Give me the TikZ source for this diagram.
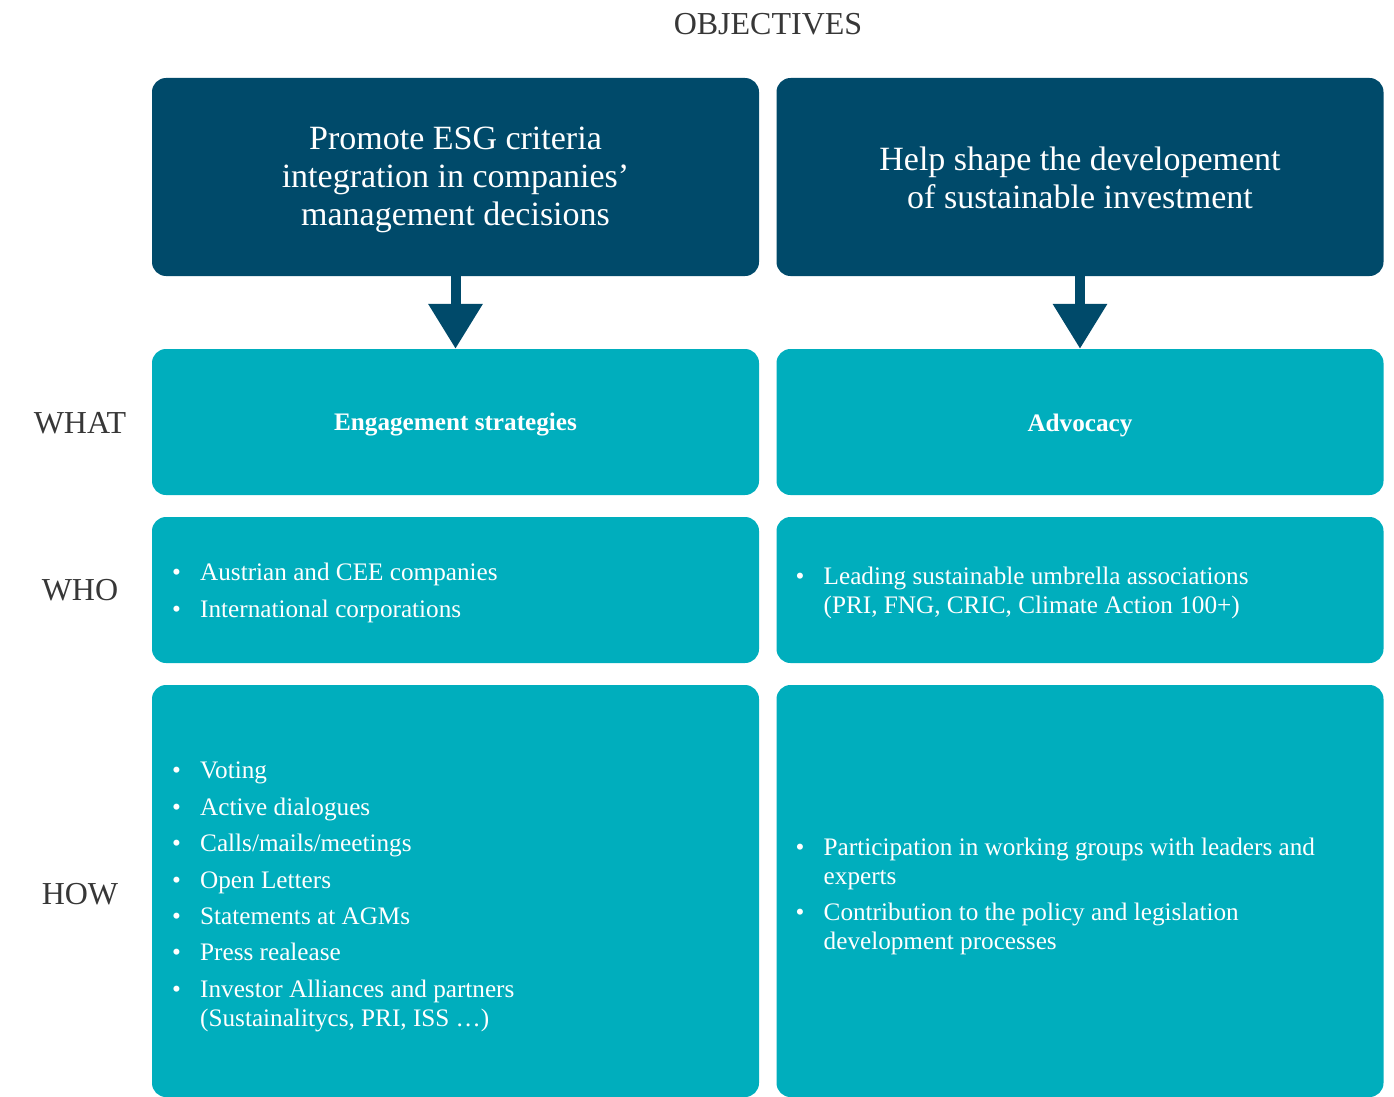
\documentclass[tikz,border=0pt]{standalone}
\usepackage{fontspec}
\setmainfont{Liberation Serif}
\usetikzlibrary{arrows.meta}
\definecolor{navy}{RGB}{0,74,106}
\definecolor{teal}{RGB}{0,174,189}
\definecolor{labelgray}{RGB}{55,55,55}
\newcommand\bodyfont{\fontsize{25.2}{29}\selectfont}
\newcommand\headfont{\fontsize{34}{38.3}\selectfont}
\newcommand\rowfont{\fontsize{32}{36}\selectfont}
\tikzset{
  objbox/.style={fill=navy, rounded corners=14pt, inner sep=0pt,
    minimum width=607pt, minimum height=198pt},
  objtext/.style={text=white, align=center, font=\headfont, inner sep=0pt},
  cellbox/.style={fill=teal, rounded corners=14pt, inner sep=0pt,
    minimum width=607pt},
  celltitle/.style={text=white, font=\bodyfont\bfseries, inner sep=0pt},
  rowlabel/.style={text=labelgray, font=\rowfont, inner sep=0pt},
  bulletline/.style={anchor=mid west, inner sep=0pt, text=white, font=\bodyfont, yshift=-5pt},
  downarrow/.style={draw=navy, line width=10pt, -{Triangle[width=52pt,length=45pt]}},
}
% bullet item: name, text start x, mid y, text
\newcommand\bitem[4]{\node[bulletline] (#1) at (#2-28,#3) {\makebox[28pt][l]{•}#4};}
% continuation line of a wrapped item
\newcommand\citem[4]{\node[bulletline] (#1) at (#2,#3) {#4};}
\begin{document}
\begin{tikzpicture}[x=1pt,y=-1pt]
\useasboundingbox (0,0) rectangle (1394,1097);

% title
\node[rowlabel] (title) at (768,24) {OBJECTIVES};

% objectives
\node[objbox] (obj1) at (455.5,177) {};
\node[objbox] (obj2) at (1080,177) {};
\node[objtext] (obj1t) at ([yshift=-3pt]obj1.center) {Promote ESG criteria\\integration in companies’\\management decisions};
\node[objtext] (obj2t) at ([yshift=-1pt]obj2.center) {Help shape the developement\\of sustainable investment};

% WHAT row
\node[cellbox, minimum height=146pt] (what1) at (455.5,422) {};
\node[cellbox, minimum height=146pt] (what2) at (1080,422) {};
\node[celltitle] (what1t) at ([yshift=-3pt]what1.center) {Engagement strategies};
\node[celltitle] (what2t) at ([yshift=-3pt]what2.center) {Advocacy};

% WHO row
\node[cellbox, minimum height=146pt] (who1) at (455.5,590) {};
\node[cellbox, minimum height=146pt] (who2) at (1080,590) {};

% HOW row
\node[cellbox, minimum height=412pt] (how1) at (455.5,891) {};
\node[cellbox, minimum height=412pt] (how2) at (1080,891) {};

% arrows from objectives to strategies
\draw[downarrow] (obj1.south) -- (what1.north);
\draw[downarrow] (obj2.south) -- (what2.north);

% row labels
\node[rowlabel] (lwhat) at (80,423) {WHAT};
\node[rowlabel] (lwho) at (80,590) {WHO};
\node[rowlabel] (lhow) at (80,894) {HOW};

% WHO lists
\bitem{w1}{200}{573}{Austrian and CEE companies}
\bitem{w2}{200}{610}{International corporations}
\bitem{w3}{823.5}{577}{Leading sustainable umbrella associations}
\citem{w4}{823.5}{606}{(PRI, FNG, CRIC, Climate Action 100+)}

% HOW lists
\bitem{h1}{200}{771}{Voting}
\bitem{h2}{200}{808}{Active dialogues}
\bitem{h3}{200}{844}{Calls/mails/meetings}
\bitem{h4}{200}{881}{Open Letters}
\bitem{h5}{200}{917}{Statements at AGMs}
\bitem{h6}{200}{953}{Press realease}
\bitem{h7}{200}{990}{Investor Alliances and partners}
\citem{h8}{200}{1019}{(Sustainalitycs, PRI, ISS …)}

\bitem{a1}{823.5}{848}{Participation in working groups with leaders and}
\citem{a2}{823.5}{877}{experts}
\bitem{a3}{823.5}{913}{Contribution to the policy and legislation}
\citem{a4}{823.5}{942}{development processes}
\end{tikzpicture}
\end{document}
